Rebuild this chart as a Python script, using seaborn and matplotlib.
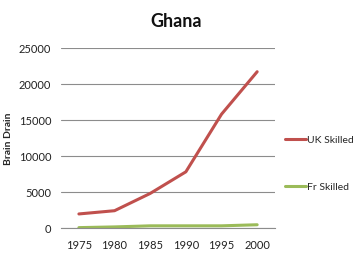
import matplotlib
matplotlib.use("Agg")
import matplotlib.pyplot as plt
import seaborn as sns
import pandas as pd

years = [1975, 1980, 1985, 1990, 1995, 2000]
uk_skilled = [1950, 2400, 4800, 7800, 15800, 21700]
fr_skilled = [50, 150, 300, 300, 300, 450]
series_names = ["UK Skilled", "Fr Skilled"]
colors = ["#C0504D", "#9BBB59"]

df = pd.DataFrame({
    "Year": years * 2,
    "Value": uk_skilled + fr_skilled,
    "Series": [series_names[0]] * len(years) + [series_names[1]] * len(years),
})

sns.set_style("white")
plt.rcParams["font.family"] = ["Lato", "DejaVu Sans"]

fig = plt.figure(figsize=(3.53, 2.55), dpi=100)
ax = fig.add_axes([0.173, 0.102, 0.606, 0.706])

sns.lineplot(data=df, x="Year", y="Value", hue="Series", palette=colors,
             linewidth=2.2, ax=ax, legend=True)

ax.set_xlim(1972.5, 2002.5)
ax.set_ylim(0, 25000)
ax.set_xticks(years)
ax.set_xticklabels([str(y) for y in years])
ax.set_yticks([0, 5000, 10000, 15000, 20000, 25000])
ax.yaxis.grid(True, color="#8c8c8c", linewidth=0.8)
ax.xaxis.grid(False)
ax.set_axisbelow(True)
for s in ["top", "right", "left"]:
    ax.spines[s].set_visible(False)
ax.spines["bottom"].set_color("#8c8c8c")
ax.spines["bottom"].set_linewidth(0.8)
ax.tick_params(axis="both", length=0, labelsize=8, colors="#222222")
ax.tick_params(axis="x", pad=8)
ax.tick_params(axis="y", pad=7)
ax.set_xlabel("")
ax.set_ylabel("Brain Drain", fontsize=7.5, fontweight="bold")
ax.yaxis.set_label_coords(-0.225, 0.5)

fig.text(0.5, 0.915, "Ghana", ha="center", va="center", fontsize=13,
         fontweight="bold", color="#111111")

leg = ax.legend(loc="center left", bbox_to_anchor=(1.0, 0.36), frameon=False,
                fontsize=7.5, handlelength=2.0, handletextpad=0.1,
                labelspacing=3.6, borderaxespad=0.6)

fig.savefig("out.png", dpi=100)
